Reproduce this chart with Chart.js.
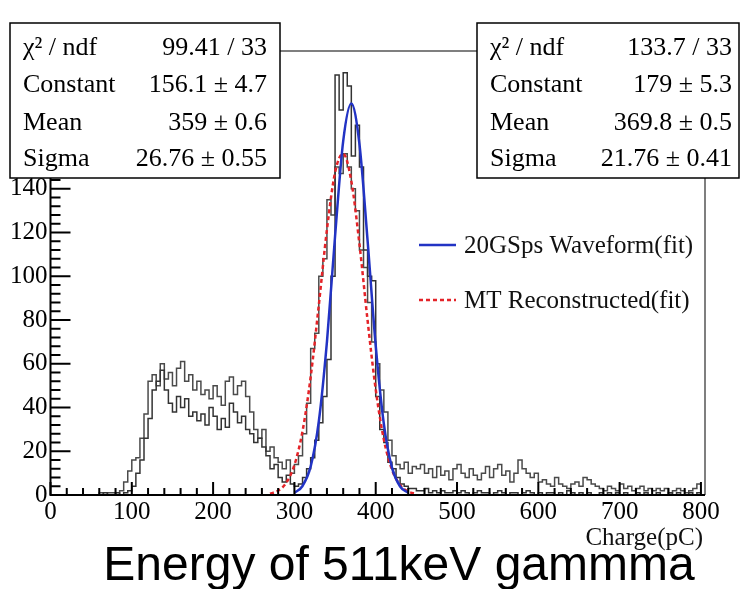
<!DOCTYPE html>
<html>
<head>
<meta charset="utf-8">
<script src="https://cdn.jsdelivr.net/npm/chart.js@4.4.1/dist/chart.umd.min.js"></script>
<style>
  html, body { margin: 0; padding: 0; background: #fff; }
  #wrap { position: relative; width: 740px; height: 589px; }
</style>
</head>
<body>
<div id="wrap"><canvas id="chargeChart"></canvas></div>
<script>
// histogram binning (pC)
const binWidth = 5;

// MT reconstructed charge, counts per 5 pC bin from 0 to 800
const mtCounts = [
  0, 0, 0, 0, 0, 0, 0, 0, 0, 0, 0, 0, 1, 0, 1, 1, 0, 2, 6, 11,
  16, 17, 26, 37, 52, 55, 50, 60, 53, 56, 50, 58, 61, 52, 55, 48, 52, 46, 48, 44,
  50, 45, 41, 52, 54, 46, 50, 52, 45, 38, 30, 26, 30, 20, 22, 17, 15, 12, 16, 10,
  14, 18, 28, 42, 67, 74, 100, 108, 135, 128, 150, 147, 156, 150, 140, 130, 112, 104, 88, 70,
  60, 48, 38, 25, 18, 14, 12, 15, 10, 13, 12, 14, 10, 12, 8, 13, 9, 11, 7, 12,
  14, 10, 8, 12, 9, 7, 10, 13, 8, 12, 14, 9, 11, 6, 10, 16, 12, 10, 8, 10,
  6, 7, 5, 4, 8, 5, 4, 3, 5, 6, 4, 8, 7, 5, 4, 3, 2, 4, 3, 2,
  5, 3, 4, 2, 3, 4, 2, 3, 2, 3, 2, 3, 1, 2, 3, 2, 1, 2, 3, 5
];

// 20GSps waveform charge, counts per 5 pC bin from 0 to 800
const wfCounts = [
  0, 0, 0, 0, 0, 0, 0, 0, 0, 0, 0, 0, 0, 1, 0, 0, 1, 0, 1, 2,
  4, 10, 16, 26, 35, 48, 52, 57, 48, 42, 38, 45, 40, 44, 36, 38, 34, 37, 32, 40,
  36, 30, 35, 31, 42, 38, 33, 36, 30, 28, 24, 26, 22, 18, 12, 14, 8, 6, 9, 5,
  4, 5, 8, 12, 17, 25, 33, 45, 62, 100, 192, 176, 193, 187, 155, 169, 150, 112, 100, 98,
  45, 30, 24, 15, 12, 8, 5, 4, 3, 3, 2, 2, 3, 1, 2, 1, 2, 1, 1, 2,
  1, 2, 1, 0, 1, 2, 1, 1, 0, 1, 2, 1, 0, 1, 1, 0, 1, 2, 1, 0,
  1, 0, 1, 1, 0, 1, 0, 2, 1, 0, 1, 0, 1, 0, 0, 1, 0, 1, 0, 1,
  0, 1, 0, 0, 1, 0, 1, 0, 0, 1, 0, 0, 1, 0, 1, 0, 0, 1, 0, 1
];

// gaussian fit curves
const wfFitX = [300, 310, 320, 330, 340, 350, 360, 370, 380, 390, 400, 410, 420, 430, 440];
const wfFitY = [1.0, 4.1, 13.0, 33.6, 70.0, 118.3, 161.8, 179.0, 160.4, 116.3, 68.3, 32.5, 12.5, 3.9, 1.0];
const mtFitX = [270, 280, 290, 300, 310, 320, 330, 340, 350, 360, 370, 380, 390, 400, 410, 420, 430, 440, 450];
const mtFitY = [0.6, 2.0, 5.6, 13.7, 29.2, 54.0, 86.8, 121.3, 147.5, 156.0, 143.5, 114.7, 79.8, 48.3, 25.4, 11.6, 4.6, 1.6, 0.5];

// axis ticks
const xTicks = [0, 100, 200, 300, 400, 500, 600, 700, 800];
const yTicks = [0, 20, 40, 60, 80, 100, 120, 140, 160, 180, 200];
const xMinorStep = 20;
const yMinorStep = 4;

// fit statistics boxes
const statLabels = ['χ² / ndf', 'Constant', 'Mean', 'Sigma'];
const mtStatValues = ['99.41 / 33', '156.1 ± 4.7', '359 ± 0.6', '26.76 ± 0.55'];
const wfStatValues = ['133.7 / 33', '179 ± 5.3', '369.8 ± 0.5', '21.76 ± 0.41'];

const legendLabels = ['20GSps Waveform(fit)', 'MT Reconstructed(fit)'];
const xTitle = 'Charge(pC)';
const chartTitle = 'Energy of 511keV gammma';

const serif = "'Liberation Serif', 'Times New Roman', serif";
const sans = "'Liberation Sans', Arial, sans-serif";
const blue = '#2233c4';
const red = '#e42328';

const toSteps = (counts) => {
    const pts = counts.map((c, i) => ({ x: i * binWidth, y: c }));
    pts.push({ x: counts.length * binWidth, y: counts[counts.length - 1] });
    return pts;
};
const toPoints = (xs, ys) => xs.map((x, i) => ({ x: x, y: ys[i] }));

// ROOT-like frame, inward ticks, stat boxes, legend and titles
const rootDecor = {
    id: 'rootDecor',
    afterDatasetsDraw(chart) {
        const { ctx, chartArea: a, scales: { x, y } } = chart;
        ctx.save();
        ctx.strokeStyle = '#555';
        ctx.lineWidth = 1.5;
        ctx.beginPath();
        ctx.moveTo(a.left, a.top);
        ctx.lineTo(a.right, a.top);
        ctx.lineTo(a.right, a.bottom);
        ctx.stroke();

        ctx.strokeStyle = '#000';
        ctx.lineWidth = 2;
        ctx.beginPath();
        ctx.moveTo(a.left, a.top);
        ctx.lineTo(a.left, a.bottom);
        ctx.lineTo(a.right, a.bottom);
        ctx.stroke();

        ctx.beginPath();
        for (let v = 0; v <= xTicks[xTicks.length - 1]; v += xMinorStep) {
            const px = x.getPixelForValue(v);
            const len = v % 100 === 0 ? 13 : 7;
            ctx.moveTo(px, a.bottom);
            ctx.lineTo(px, a.bottom - len);
        }
        for (let v = 0; v <= yTicks[yTicks.length - 1]; v += yMinorStep) {
            const py = y.getPixelForValue(v);
            const len = v % 20 === 0 ? 20 : 10;
            ctx.moveTo(a.left, py);
            ctx.lineTo(a.left + len, py);
        }
        ctx.stroke();
        ctx.restore();
    },
    afterDraw(chart) {
        const ctx = chart.ctx;
        ctx.save();

        const drawBox = (left, top, right, bottom, labelX, valueX, values) => {
            ctx.fillStyle = '#fff';
            ctx.fillRect(left, top, right - left, bottom - top);
            ctx.strokeStyle = '#000';
            ctx.lineWidth = 1.5;
            ctx.strokeRect(left, top, right - left, bottom - top);
            ctx.fillStyle = '#000';
            ctx.font = '26px ' + serif;
            ctx.textBaseline = 'alphabetic';
            const rows = [55, 92, 130, 166];
            rows.forEach((ry, i) => {
                ctx.textAlign = 'left';
                ctx.fillText(statLabels[i], labelX, ry);
                ctx.textAlign = 'right';
                ctx.fillText(values[i], valueX, ry);
            });
        };
        drawBox(10, 23, 280, 178, 23, 267, mtStatValues);
        drawBox(477, 23, 739, 178, 490, 732, wfStatValues);

        // legend
        ctx.lineWidth = 2.5;
        ctx.strokeStyle = blue;
        ctx.beginPath();
        ctx.moveTo(419, 245);
        ctx.lineTo(456, 245);
        ctx.stroke();
        ctx.strokeStyle = red;
        ctx.setLineDash([4, 3]);
        ctx.beginPath();
        ctx.moveTo(419, 300);
        ctx.lineTo(456, 300);
        ctx.stroke();
        ctx.setLineDash([]);
        ctx.fillStyle = '#111';
        ctx.font = '25px ' + serif;
        ctx.textAlign = 'left';
        ctx.fillText(legendLabels[0], 464, 253);
        ctx.fillText(legendLabels[1], 464, 308);

        // axis title and caption
        ctx.font = '25px ' + serif;
        ctx.textAlign = 'right';
        ctx.fillText(xTitle, 703, 545);
        ctx.fillStyle = '#000';
        ctx.font = '48px ' + sans;
        ctx.textAlign = 'center';
        ctx.fillText(chartTitle, 399, 580);
        ctx.restore();
    }
};

document.addEventListener('DOMContentLoaded', () => {
    const ctx = document.getElementById('chargeChart').getContext('2d');
    const chargeChart = new Chart(ctx, {
        type: 'scatter',
        data: {
            datasets: [
                {
                    label: legendLabels[0],
                    data: toPoints(wfFitX, wfFitY),
                    showLine: true,
                    borderColor: blue,
                    borderWidth: 2.5,
                    pointRadius: 0,
                    cubicInterpolationMode: 'monotone'
                },
                {
                    label: legendLabels[1],
                    data: toPoints(mtFitX, mtFitY),
                    showLine: true,
                    borderColor: red,
                    borderWidth: 2.5,
                    borderDash: [4, 3],
                    pointRadius: 0,
                    cubicInterpolationMode: 'monotone'
                },
                {
                    label: '20GSps Waveform',
                    data: toSteps(wfCounts),
                    showLine: true,
                    stepped: 'before',
                    borderColor: '#333',
                    borderWidth: 1.5,
                    pointRadius: 0
                },
                {
                    label: 'MT Reconstructed',
                    data: toSteps(mtCounts),
                    showLine: true,
                    stepped: 'before',
                    borderColor: '#4a4a4a',
                    borderWidth: 1.5,
                    pointRadius: 0
                }
            ]
        },
        options: {
            responsive: true,
            maintainAspectRatio: false,
            animation: false,
            events: [],
            layout: { padding: { top: 51, right: 35, bottom: 60, left: 0 } },
            plugins: {
                legend: { display: false },
                title: { display: false },
                tooltip: { enabled: false }
            },
            scales: {
                x: {
                    type: 'linear',
                    min: 0,
                    max: 805,
                    afterBuildTicks: (s) => { s.ticks = xTicks.map(v => ({ value: v })); },
                    afterFit: (s) => { s.height = 34; },
                    grid: { display: false, drawTicks: false },
                    border: { display: false },
                    ticks: {
                        color: '#000',
                        font: { family: serif, size: 25 },
                        padding: 2,
                        maxRotation: 0,
                        autoSkip: false
                    }
                },
                y: {
                    type: 'linear',
                    min: 0,
                    max: 203,
                    afterBuildTicks: (s) => { s.ticks = yTicks.map(v => ({ value: v })); },
                    afterFit: (s) => { s.width = 50.5; },
                    grid: { display: false, drawTicks: false },
                    border: { display: false },
                    ticks: {
                        color: '#000',
                        font: { family: serif, size: 25 },
                        padding: 3,
                        autoSkip: false
                    }
                }
            }
        },
        plugins: [rootDecor]
    });
});
</script>
</body>
</html>
